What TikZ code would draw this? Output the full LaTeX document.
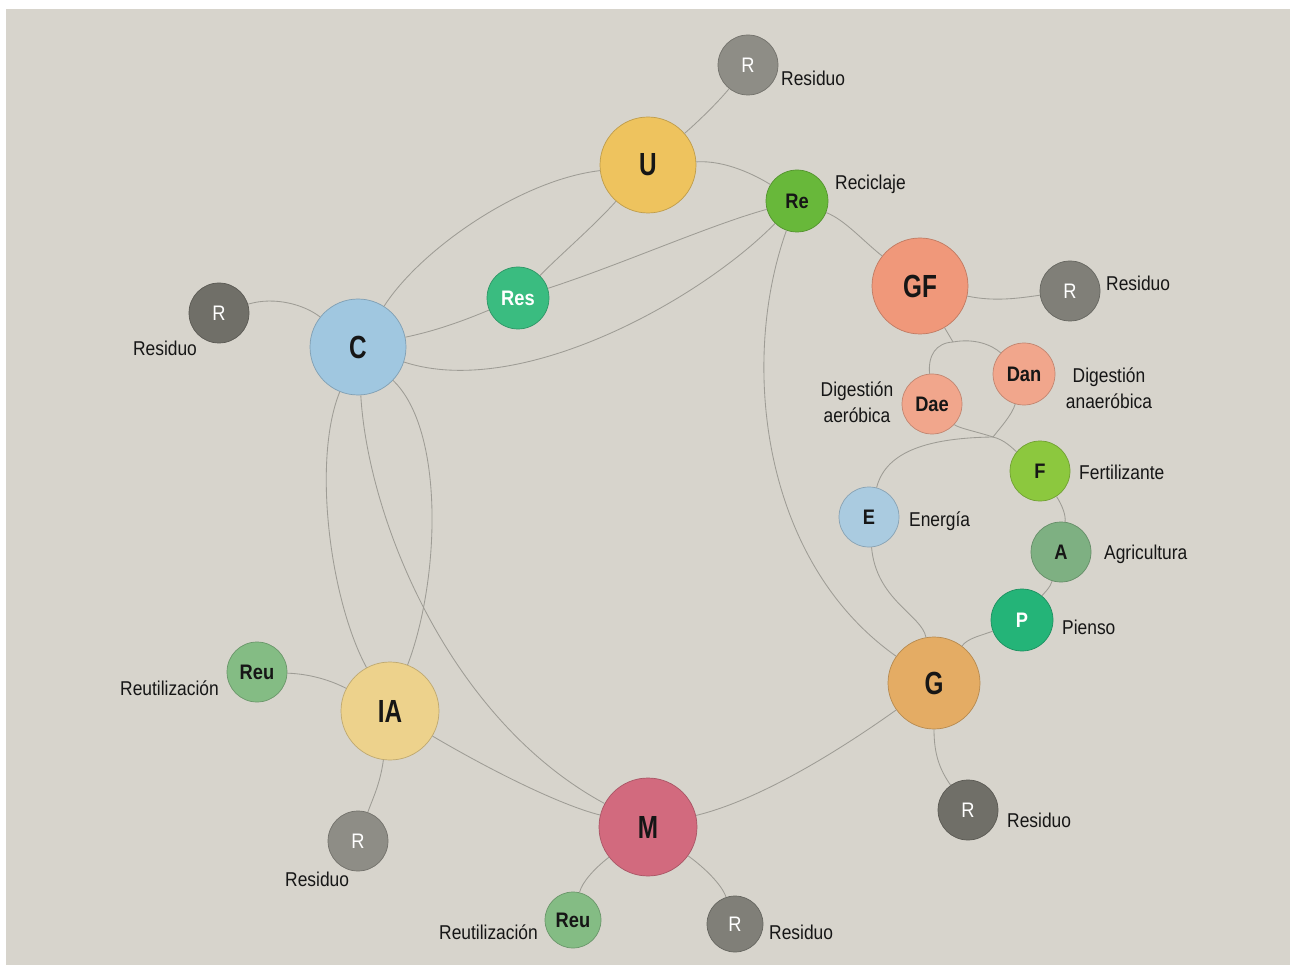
\documentclass[tikz,border=0pt]{standalone}
\usepackage{fontspec}
\setmainfont{Liberation Sans}[FakeStretch=0.87]
\newfontfamily\hubfont{Liberation Sans}[FakeStretch=0.76]
\definecolor{paper}{RGB}{215,212,204}
\definecolor{pencil}{RGB}{158,156,149}
\definecolor{txt}{RGB}{22,22,22}
\definecolor{cU}{RGB}{238,195,94}
\definecolor{cRe}{RGB}{104,184,58}
\definecolor{cGF}{RGB}{240,152,122}
\definecolor{cRes}{RGB}{58,188,128}
\definecolor{cC}{RGB}{160,199,224}
\definecolor{cDa}{RGB}{241,166,140}
\definecolor{cF}{RGB}{140,200,62}
\definecolor{cE}{RGB}{170,203,224}
\definecolor{cA}{RGB}{126,176,130}
\definecolor{cP}{RGB}{36,180,120}
\definecolor{cG}{RGB}{228,172,100}
\definecolor{cIA}{RGB}{237,210,140}
\definecolor{cM}{RGB}{210,106,126}
\definecolor{cReu}{RGB}{132,188,132}
\definecolor{rLight}{RGB}{142,141,134}
\definecolor{rMid}{RGB}{128,127,120}
\definecolor{rDark}{RGB}{112,111,104}
\tikzset{
  edge/.style={draw=pencil, line width=0.85pt},
  blob/.style={circle, inner sep=0pt, fill=#1, draw=#1!80!black, line width=0.7pt, text=txt},
  hub/.style={blob=#1, minimum size=96pt, font=\hubfont\bfseries\fontsize{32}{32}\selectfont},
  leaf/.style={blob=#1, minimum size=60pt, font=\bfseries\fontsize{21}{21}\selectfont},
  waste/.style={blob=#1, minimum size=60pt, text=white, font=\fontsize{21}{21}\selectfont},
  lbl/.style={inner sep=0pt, anchor=west, text=txt, font=\fontsize{20}{26}\selectfont},
}
\begin{document}
\begin{tikzpicture}[x=1pt,y=-1pt]
% sheet
\useasboundingbox (0,0) rectangle (1290,965);
\fill[white] (0,0) rectangle (1290,965);
\fill[paper] (6,9) rectangle (1290,965);

% main cycle
\node[hub=cU] (U) at (648,165) {U};
\node[hub=cGF] (GF) at (920,286) {GF};
\node[hub=cC] (C) at (358,347) {C};
\node[hub=cG, minimum size=92pt] (G) at (934,683) {G};
\node[hub=cIA, minimum size=98pt] (IA) at (390,711) {IA};
\node[hub=cM, minimum size=98pt] (M) at (648,827) {M};

% secondary nodes
\node[leaf=cRe, minimum size=62pt] (Re) at (797,201) {Re};
\node[leaf=cRes, minimum size=62pt, text=white] (Res) at (518,298) {Res};
\node[leaf=cDa, minimum size=62pt] (Dan) at (1024,374) {Dan};
\node[leaf=cDa] (Dae) at (932,404) {Dae};
\node[leaf=cF] (F) at (1040,471) {F};
\node[leaf=cE] (E) at (869,517) {E};
\node[leaf=cA] (A) at (1061,552) {A};
\node[leaf=cP, minimum size=62pt, text=white] (P) at (1022,620) {P};
\node[leaf=cReu] (ReuA) at (257,672) {Reu};
\node[leaf=cReu, minimum size=56pt] (ReuM) at (573,920) {Reu};

% waste nodes
\node[waste=rLight] (Ru) at (748,65) {R};
\node[waste=rMid] (Rgf) at (1070,291) {R};
\node[waste=rDark] (Rc) at (219,313) {R};
\node[waste=rDark] (Rg) at (968,810) {R};
\node[waste=rLight] (Ria) at (358,841) {R};
\node[waste=rMid, minimum size=56pt] (Rm) at (735,924) {R};

% text labels
\node[lbl] (tRu) at (781,78) {Residuo};
\node[lbl] (tRe) at (835,184) {Reciclaje};
\node[lbl] (tRgf) at (1106,283) {Residuo};
\node[lbl, anchor=center] (tRc) at (165,348) {Residuo};
\node[lbl, anchor=center, align=center] (tDae) at (857,402) {Digestión\\aeróbica};
\node[lbl, anchor=center, align=center] (tDan) at (1109,388) {Digestión\\anaeróbica};
\node[lbl] (tF) at (1079,472) {Fertilizante};
\node[lbl] (tE) at (909,521) {Energía};
\node[lbl] (tA) at (1104,554) {Agricultura};
\node[lbl] (tP) at (1062,627) {Pienso};
\node[lbl] (tReuA) at (120,688) {Reutilización};
\node[lbl] (tRia) at (285,879) {Residuo};
\node[lbl] (tRg) at (1007,820) {Residuo};
\node[lbl] (tReuM) at (439,932) {Reutilización};
\node[lbl] (tRm) at (769,932) {Residuo};

% junctions of the digestion branch
\coordinate (j1) at (953,342);
\coordinate (j2) at (993,437);

% connectors
\draw[edge] (Ru) .. controls (720,100) and (700,120) .. (U);
\draw[edge] (U) .. controls (725,160) and (755,175) .. (Re);
\draw[edge] (U) .. controls (520,180) and (420,250) .. (C);
\draw[edge] (U) .. controls (595,225) and (560,255) .. (Res);
\draw[edge] (Res) .. controls (620,265) and (710,225) .. (Re);
\draw[edge] (C) .. controls (520,400) and (700,300) .. (Re);
\draw[edge] (Re) .. controls (740,360) and (760,560) .. (G);
\draw[edge] (Re) .. controls (845,220) and (862,240) .. (GF);
\draw[edge] (GF) .. controls (995,302) and (1020,298) .. (Rgf);
\draw[edge] (GF) -- (j1);
\draw[edge] (Dae) .. controls (928,355) and (936,343) .. (j1)
                  .. controls (975,338) and (992,345) .. (Dan);
\draw[edge] (Dae) .. controls (958,428) and (978,432) .. (j2);
\draw[edge] (Dan) .. controls (1012,415) and (1000,428) .. (j2);
\draw[edge] (j2) .. controls (1005,440) and (1012,448) .. (F);
\draw[edge] (j2) .. controls (920,438) and (885,455) .. (E);
\draw[edge] (E) .. controls (876,600) and (922,615) .. (G);
\draw[edge] (F) .. controls (1062,505) and (1066,515) .. (A);
\draw[edge] (A) .. controls (1050,588) and (1045,592) .. (P);
\draw[edge] (P) .. controls (980,636) and (968,638) .. (G);
\draw[edge] (G) .. controls (934,755) and (940,770) .. (Rg);
\draw[edge] (G) .. controls (840,750) and (760,800) .. (M);
\draw[edge] (C) .. controls (312,460) and (330,600) .. (IA);
\draw[edge] (C) .. controls (368,520) and (450,720) .. (M);
\draw[edge] (C) .. controls (445,430) and (440,580) .. (IA);
\draw[edge] (IA) .. controls (490,770) and (560,805) .. (M);
\draw[edge] (ReuA) .. controls (310,674) and (330,680) .. (IA);
\draw[edge] (IA) .. controls (380,785) and (372,800) .. (Ria);
\draw[edge] (M) .. controls (595,868) and (582,882) .. (ReuM);
\draw[edge] (M) .. controls (705,868) and (722,885) .. (Rm);
\draw[edge] (Rc) .. controls (275,296) and (305,305) .. (C);
\draw[edge] (C) .. controls (440,330) and (470,318) .. (Res);
\end{tikzpicture}
\end{document}
